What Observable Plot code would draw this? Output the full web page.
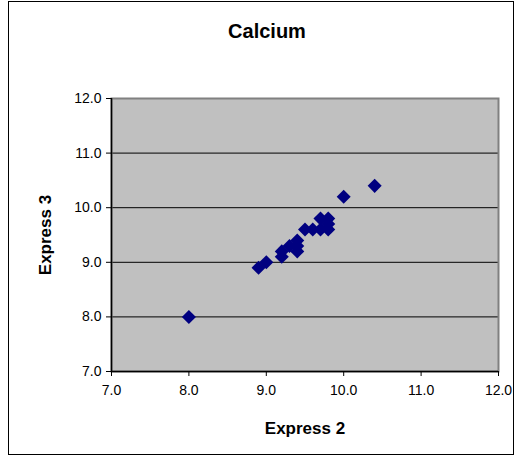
<!DOCTYPE html>
<html>
<head>
<meta charset="utf-8">
<script src="https://cdn.jsdelivr.net/npm/d3@7"></script>
<script src="https://cdn.jsdelivr.net/npm/@observablehq/plot@0.6"></script>
<style>
  html, body { margin: 0; padding: 0; background: #fff; }
  #wrap { position: relative; width: 526px; height: 462px; font-family: "Liberation Sans", Arial, sans-serif; }
  #border { position: absolute; left: 8px; top: 1px; width: 506px; height: 454px; border: 1px solid #000; box-sizing: border-box; pointer-events: none; }
  #chart { position: absolute; left: 0; top: 0; }
</style>
</head>
<body>
<div id="wrap">
  <div id="chart"></div>
  <div id="border"></div>
</div>
<script>
const title = "Calcium";
const xLabel = "Express 2";
const yLabel = "Express 3";
const express2 = [8.0, 8.9, 9.0, 9.2, 9.2, 9.4, 9.3, 9.4, 9.4, 9.5, 9.6, 9.7, 9.7, 9.8, 9.8, 9.8, 10.0, 10.4];
const express3 = [8.0, 8.9, 9.0, 9.1, 9.2, 9.2, 9.3, 9.3, 9.4, 9.6, 9.6, 9.6, 9.8, 9.8, 9.7, 9.6, 10.2, 10.4];
const ticks = [7, 8, 9, 10, 11, 12];

const data = express2.map((x, i) => ({x, y: express3[i]}));
const fmt = d3.format(".1f");

const chart = Plot.plot({
  width: 526,
  height: 462,
  marginLeft: 111,
  marginRight: 28,
  marginTop: 98,
  marginBottom: 91,
  style: { fontFamily: "Liberation Sans, Arial, sans-serif", fontSize: "14px", color: "#000", background: "transparent" },
  x: { domain: [7, 12], ticks, tickFormat: fmt, label: null },
  y: { domain: [7, 12], ticks, tickFormat: fmt, label: null },
  marks: [
    Plot.frame({ fill: "#C0C0C0", stroke: null }),
    Plot.gridY(ticks.slice(1, -1), { stroke: "#000", strokeOpacity: 1, strokeWidth: 1 }),
    Plot.frame({ stroke: "#808080", strokeWidth: 2 }),
    Plot.axisX({ ticks, tickFormat: fmt, tickSize: 5, tickPadding: 9, fontSize: 14, stroke: "#000" }),
    Plot.axisY({ ticks, tickFormat: fmt, tickSize: 5, tickPadding: 5, fontSize: 14, stroke: "#000" }),
    Plot.ruleX([7], { stroke: "#000", strokeWidth: 1.5 }),
    Plot.ruleY([7], { stroke: "#000", strokeWidth: 1.5 }),
    Plot.dot(data, { x: "x", y: "y", symbol: "square", rotate: 45, r: 5.6, fill: "#000080", stroke: null }),
    Plot.text([title], { frameAnchor: "top", dy: -75, dx: -38, fontSize: 20, fontWeight: "bold", text: d => d }),
    Plot.text([xLabel], { frameAnchor: "bottom", dy: 62, fontSize: 17, fontWeight: "bold", text: d => d }),
    Plot.text([yLabel], { frameAnchor: "left", dx: -66, rotate: -90, textAnchor: "middle", fontSize: 17, fontWeight: "bold", text: d => d })
  ]
});
document.getElementById("chart").appendChild(chart);
</script>
</body>
</html>
